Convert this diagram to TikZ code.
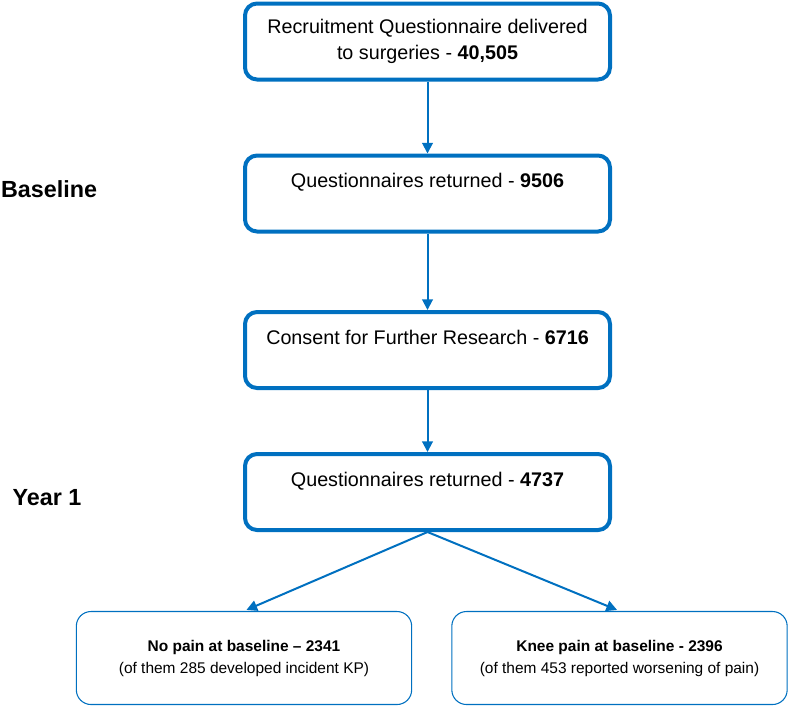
\documentclass[tikz,border=0pt]{standalone}
\usepackage{fontspec}
\setmainfont{Liberation Sans}
\usetikzlibrary{arrows.meta}
\definecolor{flowblue}{RGB}{0,112,192}

\begin{document}
\begin{tikzpicture}[x=0.75pt, y=-0.75pt,
    stagebox/.style={draw=flowblue, line width=3pt, rounded corners=9pt,
      minimum width=273.75pt, minimum height=57pt, align=center,
      font=\fontsize{14.8}{19.5}\selectfont},
    outbox/.style={draw=flowblue, line width=0.8pt, rounded corners=11pt,
      minimum width=251.5pt, minimum height=69.75pt, align=center,
      font=\fontsize{11.6}{16.5}\selectfont},
    phase/.style={font=\fontsize{17.5}{20}\selectfont\bfseries},
    flow/.style={-{Triangle[length=8pt,width=8pt]}, flowblue, line width=1.5pt}]
  \useasboundingbox (0,0) rectangle (788,708);

  % main stages
  \node[stagebox] (recruit) at (427.5,41.5) {Recruitment Questionnaire delivered\\to surgeries - \textbf{40,505}};
  \node[stagebox] (returned) at (427.5,193.5) {Questionnaires returned - \textbf{9506}\\\mbox{}};
  \node[stagebox] (consent) at (427.5,350) {Consent for Further Research - \textbf{6716}\\\mbox{}};
  \node[stagebox] (yearone) at (427.5,492) {Questionnaires returned - \textbf{4737}\\\mbox{}};

  % outcomes at year 1
  \node[outbox] (nopain) at (244,658) {\textbf{No pain at baseline -- 2341}\\(of them 285 developed incident KP)};
  \node[outbox] (kneepain) at (619.5,658) {\textbf{Knee pain at baseline - 2396}\\(of them 453 reported worsening of pain)};

  % phase labels
  \node[phase] (baselinelab) at (49,189) {Baseline};
  \node[phase] (yearlab) at (47,498) {Year 1};

  \draw[flow] (recruit) -- (returned);
  \draw[flow] (returned) -- (consent);
  \draw[flow] (consent) -- (yearone);
  % split by pain at baseline
  \draw[flow, shorten >=2pt] (yearone.south) -- (nopain.north);
  \draw[flow, shorten >=2pt] (yearone.south) -- (kneepain.north);
\end{tikzpicture}
\end{document}
